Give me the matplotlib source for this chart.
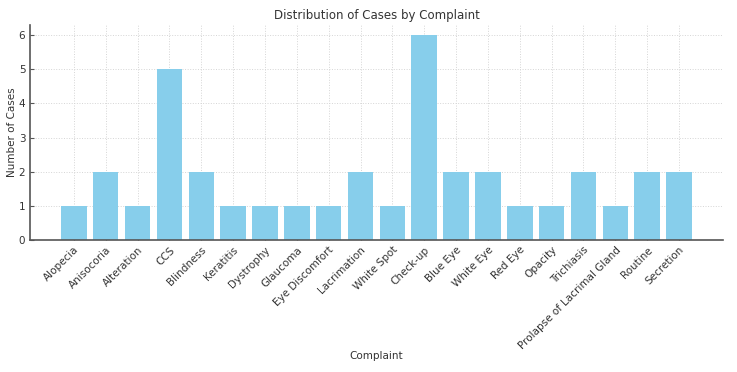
import matplotlib.pyplot as plt

complaints = ['Alopecia', 'Anisocoria', 'Alteration', 'CCS', 'Blindness', 'Keratitis',
              'Dystrophy', 'Glaucoma', 'Eye Discomfort', 'Lacrimation', 'White Spot',
              'Check-up', 'Blue Eye', 'White Eye', 'Red Eye', 'Opacity', 'Trichiasis',
              'Prolapse of Lacrimal Gland', 'Routine', 'Secretion']
cases = [1, 2, 1, 5, 2, 1, 1, 1, 1, 2, 1, 6, 2, 2, 1, 1, 2, 1, 2, 2]

fig = plt.figure(figsize=(7.37, 3.72), dpi=100)
ax = fig.add_axes([0.041, 0.355, 0.94, 0.578])

ax.bar(range(len(complaints)), cases, width=0.8, color='skyblue', zorder=2)

ax.set_xticks(range(len(complaints)))
ax.set_xticklabels(complaints, rotation=45, ha='right', rotation_mode='anchor',
                   fontsize=7.5, color='#333333')
ax.tick_params(axis='y', labelsize=7.5, labelcolor='#333333')
ax.tick_params(direction='in', length=3, color='#555555')
ax.set_xlim(-1.37, len(complaints) + 0.38)
ax.set_ylim(0, 6.3)

ax.set_title('Distribution of Cases by Complaint', fontsize=8.5, color='#333333', pad=4)
ax.set_xlabel('Complaint', fontsize=7.5, color='#333333', labelpad=0)
ax.set_ylabel('Number of Cases', fontsize=7.5, color='#333333', labelpad=1)

ax.grid(True, linestyle=':', color='#d5d5d5', linewidth=0.7, zorder=0)
for s in ['top', 'right']:
    ax.spines[s].set_visible(False)
for s in ['left', 'bottom']:
    ax.spines[s].set_color('#555555')
    ax.spines[s].set_linewidth(1.2)

fig.savefig('out.png', dpi=100)
